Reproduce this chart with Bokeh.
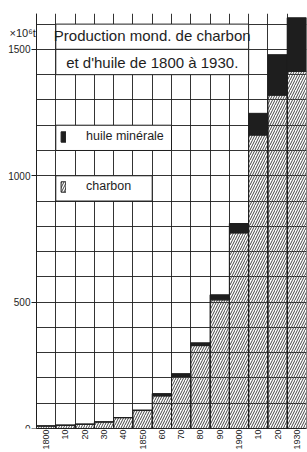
import math
from bokeh.plotting import figure
from bokeh.models import (ColumnDataSource, FixedTicker, BoxAnnotation, Label,
                          Legend, LegendItem)
from bokeh.embed import file_html
from bokeh.resources import INLINE

# ---- data (10^6 t) ----
years = [1800, 1810, 1820, 1830, 1840, 1850, 1860, 1870, 1880, 1890, 1900, 1910, 1920, 1930]
year_labels = ["1800", "10", "20", "30", "40", "1850", "60", "70", "80", "90", "1900", "10", "20", "1930"]
coal = [10, 13, 17, 26, 43, 72, 129, 206, 328, 509, 774, 1161, 1319, 1413]
oil = [0, 0, 0, 0, 0, 0, 9, 11, 11, 20, 37, 86, 160, 212]
y_tick_values = [0, 500, 1000, 1500]
title_lines = ["Production mond. de charbon", "et d'huile de 1800 à 1930."]
unit_label = "×10⁶t"
legend_oil = "huile minérale"
legend_coal = "charbon"

INK = "#1e1e1e"
FONT = "Liberation Sans"

X0, X1 = 1795, 1935      # chart area in data units
Y1 = 1642

src = ColumnDataSource(dict(
    x=years,
    coal=coal,
    total=[c + o for c, o in zip(coal, oil)],
))

# frame spans the whole width; the y axis sits at X0 inside it
p = figure(width=307, height=452, output_backend="svg", toolbar_location=None, title=None,
           x_range=(X0 - 36 * (X1 - X0) / 270, X1), y_range=(0, Y1),
           min_border_left=0, min_border_right=1, min_border_top=13, min_border_bottom=22,
           background_fill_color="white", border_fill_color="white")
p.outline_line_color = None

p.ygrid.ticker = FixedTicker(ticks=list(range(0, 1700, 100)) + [Y1])
p.xgrid.ticker = FixedTicker(ticks=[y - 5 for y in years] + [years[-1] + 5])
p.ygrid.cross_bounds = (X0, X1)
for g in (p.xgrid, p.ygrid):
    g.grid_line_color = INK
    g.grid_line_width = 1
    g.grid_line_alpha = 0.9

coal_r = p.vbar(x="x", width=10, bottom=0, top="coal", source=src,
                fill_color="white", fill_alpha=0.0,
                hatch_pattern="right_diagonal_line", hatch_color="#444444",
                hatch_scale=5, hatch_weight=1,
                line_color=INK, line_width=1)
oil_r = p.vbar(x="x", width=10, bottom="coal", top="total", source=src,
               fill_color=INK, line_color=INK, line_width=1)

p.yaxis.fixed_location = X0
p.yaxis.ticker = FixedTicker(ticks=y_tick_values)
p.yaxis.major_tick_out = 5
p.yaxis.major_tick_in = 0
p.yaxis.minor_tick_line_color = None
p.yaxis.major_label_standoff = 1
p.yaxis.major_label_text_font = FONT
p.yaxis.major_label_text_font_size = "10px"
p.yaxis.major_label_text_color = INK
p.yaxis.axis_line_color = INK
p.yaxis.major_tick_line_color = INK

p.xaxis.bounds = (X0, X1)
p.xaxis.ticker = FixedTicker(ticks=years)
p.xaxis.major_label_overrides = {y: l for y, l in zip(years, year_labels)}
p.xaxis.major_label_orientation = math.pi / 2
p.xaxis.major_tick_out = 0
p.xaxis.major_tick_in = 0
p.xaxis.minor_tick_line_color = None
p.xaxis.major_label_standoff = 1
p.xaxis.major_label_text_font = FONT
p.xaxis.major_label_text_font_size = "9px"
p.xaxis.major_label_text_color = INK
p.xaxis.axis_line_color = INK

# white panels (title in two ruled rows, legend rows) hiding the vertical rules
box_kw = dict(fill_color="white", fill_alpha=1.0, line_color=INK, line_width=1, line_alpha=1.0)
p.add_layout(BoxAnnotation(left=1805, right=1905, bottom=1500, top=1600, **box_kw))
p.add_layout(BoxAnnotation(left=1805, right=1905, bottom=1400, top=1500, **box_kw))
p.add_layout(BoxAnnotation(left=1805, right=1865, bottom=1100, top=1200, **box_kw))
p.add_layout(BoxAnnotation(left=1805, right=1855, bottom=900, top=1000, **box_kw))

p.add_layout(Label(x=1855, y=1555, text=title_lines[0], text_align="center", text_baseline="middle",
                   text_font=FONT, text_font_size="15px", text_color=INK))
p.add_layout(Label(x=1855, y=1449, text=title_lines[1], text_align="center", text_baseline="middle",
                   text_font=FONT, text_font_size="15px", text_color=INK))

p.add_layout(Label(x=9, x_units="screen", y=1563, text=unit_label, text_baseline="middle",
                   text_font=FONT, text_font_size="11px", text_color=INK))

leg_kw = dict(padding=0, margin=0, spacing=0, glyph_width=6, glyph_height=13,
              label_standoff=20, label_text_font=FONT, label_text_font_size="12.5px",
              label_text_color=INK, background_fill_alpha=0, border_line_alpha=0,
              label_height=13)
p.add_layout(Legend(items=[LegendItem(label=legend_oil, renderers=[oil_r])],
                    location=(60, 285), **leg_kw))
p.add_layout(Legend(items=[LegendItem(label=legend_coal, renderers=[coal_r])],
                    location=(60, 235), **leg_kw))

open("out.html", "w").write(file_html(p, INLINE))
